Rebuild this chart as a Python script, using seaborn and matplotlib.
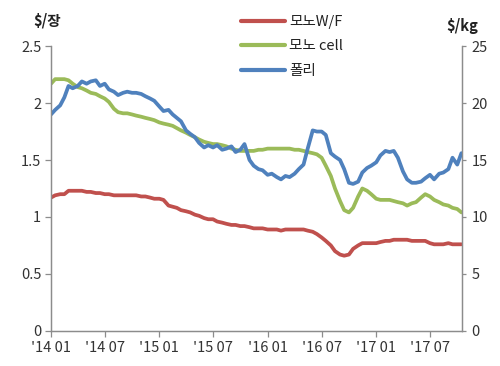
import matplotlib
matplotlib.use("Agg")
import matplotlib.pyplot as plt
import matplotlib.dates as mdates
from matplotlib.ticker import FuncFormatter, MultipleLocator
import seaborn as sns
import pandas as pd
import numpy as np

# ---------------- data ----------------
dates = pd.date_range("2014-01-01", periods=92, freq="SMS")

mono_wf = [1.17, 1.19, 1.20, 1.20, 1.23, 1.23, 1.23, 1.23, 1.22, 1.22,
           1.21, 1.21, 1.20, 1.20, 1.19, 1.19, 1.19, 1.19, 1.19, 1.19,
           1.18, 1.18, 1.17, 1.16, 1.16, 1.15, 1.10, 1.09, 1.08, 1.06,
           1.05, 1.04, 1.02, 1.01, 0.99, 0.98, 0.98, 0.96, 0.95, 0.94,
           0.93, 0.93, 0.92, 0.92, 0.91, 0.90, 0.90, 0.90, 0.89, 0.89,
           0.89, 0.88, 0.89, 0.89, 0.89, 0.89, 0.89, 0.88, 0.87, 0.85,
           0.82, 0.79, 0.75, 0.70, 0.67, 0.66, 0.67, 0.72, 0.75, 0.77,
           0.77, 0.77, 0.77, 0.78, 0.79, 0.79, 0.80, 0.80, 0.80, 0.80,
           0.79, 0.79, 0.79, 0.79, 0.77, 0.76, 0.76, 0.76, 0.77, 0.76,
           0.76, 0.76]

mono_cell = [2.17, 2.21, 2.21, 2.21, 2.20, 2.17, 2.14, 2.13, 2.11, 2.09,
             2.08, 2.06, 2.04, 2.01, 1.95, 1.92, 1.91, 1.91, 1.90, 1.89,
             1.88, 1.87, 1.86, 1.85, 1.83, 1.82, 1.81, 1.80, 1.78, 1.76,
             1.74, 1.72, 1.70, 1.68, 1.66, 1.65, 1.64, 1.64, 1.63, 1.62,
             1.60, 1.59, 1.58, 1.58, 1.58, 1.58, 1.59, 1.59, 1.60, 1.60,
             1.60, 1.60, 1.60, 1.60, 1.59, 1.59, 1.58, 1.57, 1.56, 1.55,
             1.52, 1.45, 1.36, 1.25, 1.14, 1.06, 1.04, 1.08, 1.18, 1.25,
             1.23, 1.20, 1.16, 1.15, 1.15, 1.15, 1.14, 1.13, 1.12, 1.10,
             1.12, 1.13, 1.17, 1.20, 1.18, 1.15, 1.13, 1.11, 1.10, 1.08,
             1.07, 1.04]

poly = [19.0, 19.4, 19.8, 20.5, 21.5, 21.3, 21.5, 21.9, 21.7, 21.9,
        22.0, 21.5, 21.7, 21.2, 21.0, 20.7, 20.9, 21.0, 20.9, 20.9,
        20.8, 20.6, 20.4, 20.2, 19.7, 19.3, 19.4, 19.0, 18.7, 18.4,
        17.6, 17.3, 17.0, 16.5, 16.1, 16.3, 16.1, 16.3, 15.9, 16.0,
        16.2, 15.7, 15.9, 16.4, 15.0, 14.5, 14.2, 14.1, 13.7, 13.8,
        13.5, 13.3, 13.6, 13.5, 13.8, 14.2, 14.6, 16.0, 17.6, 17.5,
        17.5, 17.2, 15.6, 15.3, 15.0, 14.2, 13.0, 12.9, 13.1, 13.9,
        14.3, 14.5, 14.8, 15.4, 15.8, 15.7, 15.8, 15.2, 14.0, 13.3,
        13.0, 13.0, 13.1, 13.4, 13.7, 13.3, 13.8, 13.9, 14.2, 15.2,
        14.6, 15.6]

series_names = ["모노W/F", "모노 cell", "폴리"]
colors = ["#C0504D", "#9BBB59", "#4F81BD"]
tick_dates = ["2014-01-01", "2014-07-01", "2015-01-01", "2015-07-01",
              "2016-01-01", "2016-07-01", "2017-01-01", "2017-07-01"]
tick_labels = ["'14 01", "'14 07", "'15 01", "'15 07",
               "'16 01", "'16 07", "'17 01", "'17 07"]

# ---------------- style ----------------
sns.set_theme(style="white")
plt.rcParams["font.family"] = ["Noto Sans CJK KR", "DejaVu Sans"]
plt.rcParams["axes.unicode_minus"] = False

df_left = pd.DataFrame({
    "date": list(dates) * 2,
    "value": mono_wf + mono_cell,
    "series": [series_names[0]] * len(dates) + [series_names[1]] * len(dates),
})
df_right = pd.DataFrame({"date": dates, "value": poly, "series": series_names[2]})

fig = plt.figure(figsize=(5.0, 3.66), dpi=100)
ax = fig.add_axes([0.102, 0.096, 0.822, 0.778])
ax2 = ax.twinx()

lw = 2.7
sns.lineplot(data=df_left, x="date", y="value", hue="series",
             palette={series_names[0]: colors[0], series_names[1]: colors[1]},
             linewidth=lw, ax=ax, legend=False)
sns.lineplot(data=df_right, x="date", y="value", color=colors[2],
             linewidth=lw, ax=ax2, legend=False)

ax.set_ylim(0, 2.5)
ax2.set_ylim(0, 25)
ax.set_xlim(pd.Timestamp("2014-01-01"), pd.Timestamp("2017-10-17"))
ax.yaxis.set_major_locator(MultipleLocator(0.5))
ax2.yaxis.set_major_locator(MultipleLocator(5))
ax.yaxis.set_major_formatter(FuncFormatter(lambda v, p: f"{v:g}"))
ax2.yaxis.set_major_formatter(FuncFormatter(lambda v, p: f"{v:g}"))
ax.set_xticks(pd.to_datetime(tick_dates))
ax.set_xticklabels(tick_labels)

ax.set_xlabel("")
ax.set_ylabel("")
ax2.set_xlabel("")
ax2.set_ylabel("")

spine_col = "#8C8C8C"
for a in (ax, ax2):
    a.spines["top"].set_visible(False)
    for s in ("left", "right", "bottom"):
        a.spines[s].set_color(spine_col)
        a.spines[s].set_linewidth(0.9)
    a.grid(False)
ax.tick_params(axis="y", left=True, length=4, width=0.9, color=spine_col,
               labelsize=10.5, labelcolor="#333333", pad=3)
ax.tick_params(axis="x", bottom=True, length=4, width=0.9, color=spine_col,
               labelsize=10.5, labelcolor="#333333", pad=3)
ax2.tick_params(axis="y", right=True, length=3, width=0.9, color=spine_col,
                labelsize=10.5, labelcolor="#333333", pad=4)

fig.text(0.066, 0.945, "$/장", fontsize=10.5, fontweight="bold", color="#222222",
         ha="left", va="center")
fig.text(0.893, 0.93, "$/kg", fontsize=10.5, fontweight="bold", color="#222222",
         ha="left", va="center")

handles = [plt.Line2D([], [], color=c, linewidth=3) for c in colors]
fig.legend(handles, series_names, loc="upper left", bbox_to_anchor=(0.47, 0.975),
           frameon=False, fontsize=10.5, handlelength=3.0, handletextpad=0.3,
           labelspacing=0.72, borderaxespad=0.0, labelcolor="#222222")

fig.savefig("out.png", dpi=100)
